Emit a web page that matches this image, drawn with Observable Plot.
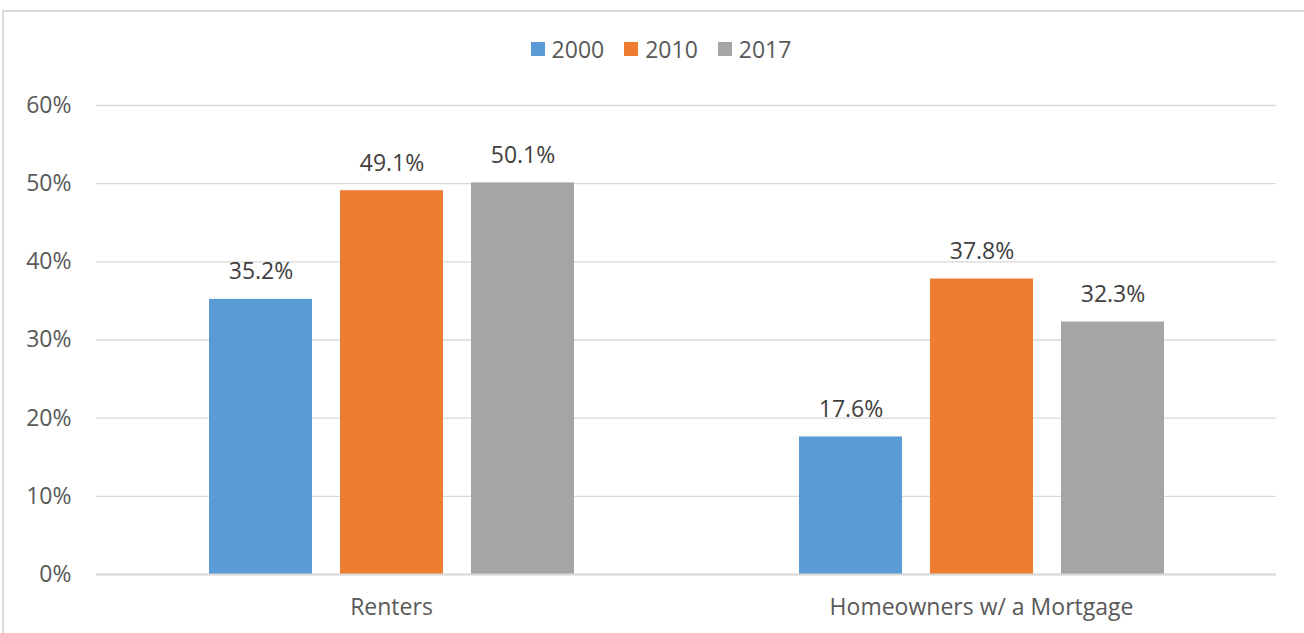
<!DOCTYPE html>
<html>
<head>
<meta charset="utf-8">
<script src="https://cdn.jsdelivr.net/npm/d3@7"></script>
<script src="https://cdn.jsdelivr.net/npm/@observablehq/plot@0.6"></script>
<style>
  html, body { margin: 0; padding: 0; background: #fff; width: 1304px; height: 633px; overflow: hidden; }
  #chart { position: absolute; left: 0; top: 0; }
  #frame { position: absolute; left: 2px; top: 10px; width: 1320px; height: 640px; border: 2px solid #d9d9d9; box-sizing: border-box; pointer-events: none; }
  #legend { position: absolute; left: 2px; width: 1318px; top: 36px; height: 26px; display: flex; justify-content: center; align-items: center;
            font-family: "Open Sans", sans-serif; font-size: 23px; color: #595959; }
  #legend .item { display: flex; align-items: center; margin: 0 10px; }
  #legend .sw { width: 14px; height: 14px; margin-right: 7px; }
</style>
</head>
<body>
<div id="chart"></div>
<div id="frame"></div>
<div id="legend"></div>
<script>
const categories = ["Renters", "Homeowners w/ a Mortgage"];
const years = ["2000", "2010", "2017"];
const values2000 = [35.2, 17.6];
const values2010 = [49.1, 37.8];
const values2017 = [50.1, 32.3];
const yTicks = [0, 10, 20, 30, 40, 50, 60];
const colors = ["#5b9bd5", "#ed7d31", "#a5a5a5"];

const series = [values2000, values2010, values2017];
const data = [];
categories.forEach((c, i) => {
  series.forEach((s, j) => data.push({category: c, year: years[j], value: s[i]}));
});

const fontSize = 23;
const chart = Plot.plot({
  width: 1304,
  height: 633,
  marginLeft: 96,
  marginRight: 28,
  marginTop: 105,
  marginBottom: 59,
  style: {fontFamily: "Open Sans, sans-serif", fontSize: fontSize + "px", color: "#595959", background: "transparent", overflow: "visible"},
  fx: {domain: categories, padding: 0, label: null, axis: null},
  x: {domain: years, paddingInner: 0.214, paddingOuter: 0.854, axis: null},
  y: {domain: [0, 60], axis: null},
  color: {domain: years, range: colors},
  marks: [
    Plot.gridY(yTicks, {stroke: "#d9d9d9", strokeOpacity: 1, strokeWidth: 1.4}),
    Plot.axisY(yTicks, {tickSize: 0, tickPadding: 25, tickFormat: d => d + "%", label: null, fontSize: fontSize, fill: "#595959"}),
    Plot.barY(data, {fx: "category", x: "year", y: "value", fill: "year"}),
    Plot.ruleY([0], {stroke: "#d9d9d9", strokeWidth: 2}),
    Plot.text(data, {fx: "category", x: "year", y: "value", text: d => d.value.toFixed(1) + "%", lineAnchor: "bottom", dy: -20, fill: "#404040", fontSize: fontSize}),
    Plot.axisFx({anchor: "bottom", tickSize: 0, tickPadding: 24, label: null, fontSize: fontSize, fill: "#595959"})
  ]
});
document.getElementById("chart").appendChild(chart);

const legend = document.getElementById("legend");
years.forEach((y, i) => {
  const item = document.createElement("div");
  item.className = "item";
  const sw = document.createElement("div");
  sw.className = "sw";
  sw.style.background = colors[i];
  const label = document.createElement("span");
  label.textContent = y;
  item.appendChild(sw);
  item.appendChild(label);
  legend.appendChild(item);
});
</script>
</body>
</html>
